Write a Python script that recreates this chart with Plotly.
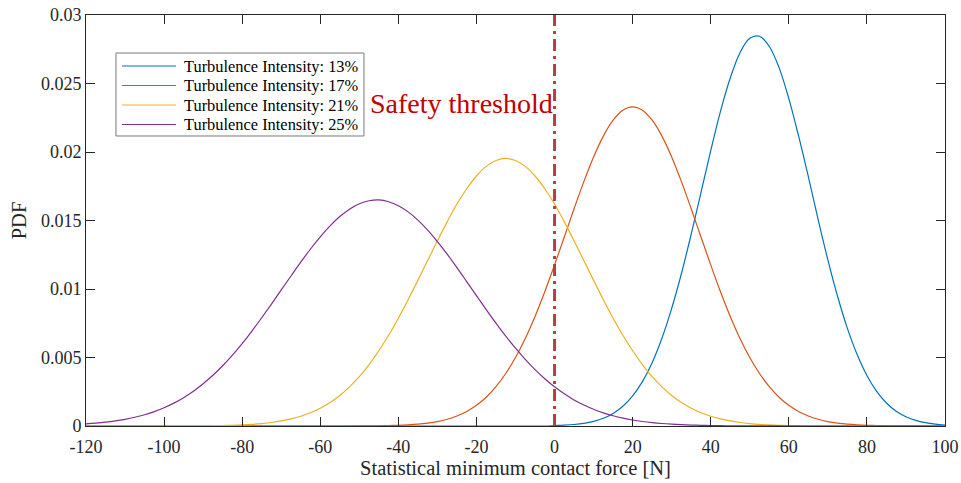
import plotly.graph_objects as go

# shared x grid: -120 .. 100 in steps of 2.5
force = [-120 + 2.5 * i for i in range(89)]

pdf_13 = [0] * 48 + [
    0.000031, 0.000059, 0.00011, 0.000195, 0.00034,
    0.000565, 0.00092, 0.00144, 0.0022, 0.00324,
    0.00462, 0.0064, 0.00858, 0.01113, 0.0140,
    0.01704, 0.0201, 0.02297, 0.0254, 0.02725,
    0.0283, 0.02845, 0.0277, 0.02616, 0.0239,
    0.02117, 0.0182, 0.01508, 0.01213, 0.00945,
    0.00713, 0.00522, 0.00369, 0.00253, 0.00168,
    0.00108, 0.00068, 0.00041, 0.00024, 0.000135,
    0.000074]

pdf_17 = [0] * 28 + [
    5.3e-6, 1e-5, 1.7e-5, 2.9e-5, 4.9e-5,
    8.16e-5, 1.32e-4, 2.09e-4, 3.24e-4, 4.92e-4,
    7.3e-4, 1.06e-3, 1.51e-3, 2.1e-3, 2.87e-3,
    3.83e-3, 5.0e-3, 6.39e-3, 8.0e-3, 9.8e-3,
    0.01176, 0.0138, 0.01586, 0.01784, 0.01964,
    0.02116, 0.02232, 0.02305, 0.0233, 0.02305,
    0.02232, 0.02116, 0.01964, 0.01784, 0.01586,
    0.0138, 0.01176, 0.0098, 0.008, 0.00639,
    0.005, 0.00383, 0.00287, 0.0021, 0.00151,
    0.00106, 0.00073, 0.000492, 0.000324, 0.000209,
    0.000132, 8.16e-5, 4.9e-5, 2.9e-5, 1.7e-5,
    1e-5, 5.3e-6, 3e-6, 1.5e-6, 8e-7,
    4e-7]

pdf_21 = [
    0, 0, 0, 0, 2.1e-7,
    4e-7, 6.7e-7, 1.2e-6, 2.0e-6, 3.4e-6,
    5.5e-6, 9e-6, 1.44e-5, 2.3e-5, 3.5e-5,
    5.4e-5, 8.2e-5, 1.22e-4, 1.79e-4, 2.58e-4,
    3.68e-4, 5.15e-4, 7.12e-4, 9.7e-4, 1.3e-3,
    1.71e-3, 2.23e-3, 2.86e-3, 3.6e-3, 4.48e-3,
    5.49e-3, 6.62e-3, 7.87e-3, 9.22e-3, 0.01063,
    0.01208, 0.01352, 0.0149, 0.0162, 0.01732,
    0.01825, 0.01895, 0.01938, 0.01953, 0.01938,
    0.01895, 0.01825, 0.01732, 0.0162, 0.0149,
    0.01352, 0.01208, 0.01063, 0.00922, 0.00787,
    0.00662, 0.00549, 0.00448, 0.0036, 0.00286,
    0.00223, 0.00171, 0.0013, 0.00097, 7.12e-4,
    5.15e-4, 3.68e-4, 2.58e-4, 1.79e-4, 1.22e-4,
    8.2e-5, 5.4e-5, 3.5e-5, 2.3e-5, 1.44e-5,
    9e-6, 5.5e-6, 3.4e-6, 2e-6, 1.2e-6,
    6.7e-7, 4e-7, 2.1e-7, 0, 0,
    0, 0, 0, 0]

pdf_25 = [
    0.00015, 0.000205, 0.000276, 0.000369, 0.000487,
    0.000637, 0.000823, 0.00105, 0.00133, 0.00167,
    0.00207, 0.00254, 0.00308, 0.0037, 0.0044,
    0.00518, 0.00602, 0.00693, 0.0079, 0.0089,
    0.00993, 0.01095, 0.01196, 0.01292, 0.01381,
    0.01461, 0.01529, 0.01583, 0.01622, 0.01644,
    0.0165, 0.01637, 0.01608, 0.01563, 0.01503,
    0.0143, 0.01346, 0.01254, 0.01156, 0.01054,
    0.00951, 0.0085, 0.00751, 0.00656, 0.00568,
    0.00486, 0.00411, 0.00345, 0.00286, 0.00235,
    0.0019, 0.00153, 0.00122, 0.000957, 0.000745,
    0.000573, 0.000436, 0.000329, 0.000245, 0.000181,
    0.000132, 9.5e-5, 6.8e-5, 4.8e-5, 3.4e-5,
    2.3e-5, 1.6e-5, 1.1e-5, 7.3e-6, 5e-6,
    3e-6, 2e-6, 1.3e-6, 8e-7, 5e-7,
    3e-7, 2e-7] + [0] * 12

series_names = ["Turbulence Intensity: 13%", "Turbulence Intensity: 17%",
                "Turbulence Intensity: 21%", "Turbulence Intensity: 25%"]
series_values = [pdf_13, pdf_17, pdf_21, pdf_25]
colors = ["#0072BD", "#D95319", "#EDB120", "#7E2F8E"]

threshold_x = 0
threshold_label = "Safety threshold"
x_ticks = list(range(-120, 101, 20))
x_tick_text = [str(v) for v in x_ticks]
y_ticks = [0, 0.005, 0.01, 0.015, 0.02, 0.025, 0.03]
y_tick_text = ["0", "0.005", "0.01", "0.015", "0.02", "0.025", "0.03"]

FONT = "Liberation Serif"

fig = go.Figure()
for name, vals, c in zip(series_names, series_values, colors):
    fig.add_trace(go.Scatter(x=force, y=vals, mode="lines", name=name, showlegend=False,
                             line=dict(color=c, width=1.2, shape="spline", smoothing=1.0)))

fig.add_shape(type="line", xref="x", yref="y", x0=threshold_x, x1=threshold_x,
              y0=0, y1=0.03, line=dict(color="#B5403F", width=3, dash="12px,5px,3px,5px"))
fig.add_annotation(x=threshold_x, y=0.02355, xref="x", yref="y", text=threshold_label,
                   showarrow=False, xanchor="right", yanchor="middle", xshift=0,
                   font=dict(family=FONT, size=28, color="#C00000"))

# legend box drawn in MATLAB style (compact rows)
leg_x0, leg_x1, leg_y0, leg_y1 = 0.0349, 0.3236, 0.7056, 0.9075
leg_line_x0, leg_line_x1, leg_text_x = 0.0419, 0.1048, 0.1114
leg_rows = [0.8759, 0.8285, 0.7810, 0.7336]
fig.add_shape(type="rect", xref="paper", yref="paper", x0=leg_x0, x1=leg_x1,
              y0=leg_y0, y1=leg_y1, line=dict(color="#7a7a7a", width=1),
              fillcolor="white", layer="above")
for name, c, ry in zip(series_names, colors, leg_rows):
    fig.add_shape(type="line", xref="paper", yref="paper", x0=leg_line_x0, x1=leg_line_x1,
                  y0=ry, y1=ry, line=dict(color=c, width=1.2), layer="above")
    fig.add_annotation(x=leg_text_x, y=ry, xref="paper", yref="paper", text=name,
                       showarrow=False, xanchor="left", yanchor="middle",
                       font=dict(family=FONT, size=16.4, color="#000000"))

axis_common = dict(showline=True, linecolor="#262626", linewidth=1, mirror="ticks",
                   ticks="inside", ticklen=9, tickcolor="#262626", showgrid=False,
                   zeroline=False, automargin=False,
                   tickfont=dict(family=FONT, size=18, color="#262626"))

fig.update_layout(
    width=961, height=483,
    margin=dict(l=86, r=16, t=15, b=57, autoexpand=False),
    paper_bgcolor="white", plot_bgcolor="white",
    font=dict(family=FONT, color="#262626"),
    xaxis=dict(range=[-120, 100], tickvals=x_ticks, ticktext=x_tick_text,
               ticklabelstandoff=4,
               title=dict(text="Statistical minimum contact force [N]", font=dict(family=FONT, size=20.5), standoff=2),
               **axis_common),
    yaxis=dict(range=[0, 0.03], tickvals=y_ticks, ticktext=y_tick_text,
               title=dict(text="PDF", font=dict(family=FONT, size=20.5), standoff=8),
               **axis_common),
    showlegend=False,
)

fig.write_html("out.html")
